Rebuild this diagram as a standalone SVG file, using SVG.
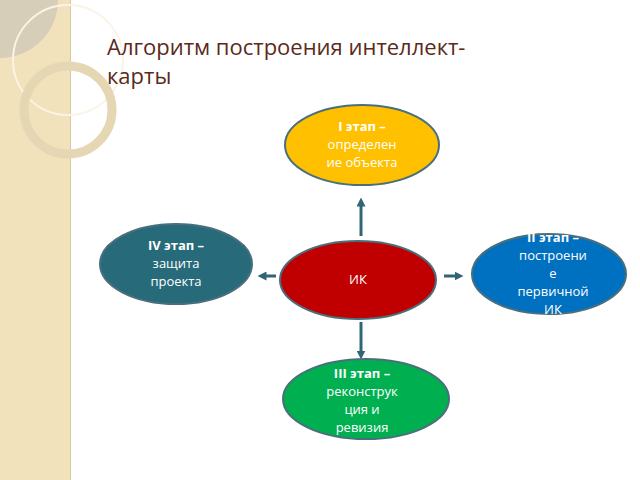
<svg xmlns="http://www.w3.org/2000/svg" width="640" height="480" viewBox="0 0 640 480">
<defs>
<style>
.n{stroke:#4a6f7c;stroke-width:2}
.t{font-family:"Open Sans","DejaVu Sans",sans-serif;font-size:13px;fill:#fff;text-anchor:middle}
.c{stroke:#2f6675;stroke-width:3;fill:none;marker-end:url(#a)}
</style>
<marker id="a" viewBox="0 0 10 10" refX="5" refY="5" markerWidth="3" markerHeight="3" orient="auto"><path d="M0,0L10,5L0,10z" fill="#2f6675"/></marker>
<clipPath id="cb"><ellipse cx="549" cy="274" rx="77" ry="40"/></clipPath>
</defs>
<rect width="640" height="480" fill="#fff"/>
<g id="decor">
<rect x="0" y="0" width="70" height="480" fill="#f2e2bc"/>
<line x1="70.5" y1="0" x2="70.5" y2="480" stroke="#d8c9a4"/>
<path d="M0,0H58A58,58 0 0 1 0,58Z" fill="#d6ceb8"/>
<circle cx="68" cy="60" r="55" fill="none" stroke="#fbf4e6" stroke-width="2"/>
<circle cx="68" cy="110" r="44" fill="none" stroke="#e6d7b4" stroke-width="9"/>
</g>
<text x="107" y="55" font-family="'Open Sans','DejaVu Sans',sans-serif" font-size="22" fill="#5a2a1a">Алгоритм построения интеллект-</text>
<text x="107" y="84" font-family="'Open Sans','DejaVu Sans',sans-serif" font-size="22" fill="#5a2a1a">карты</text>
<g id="connectors">
<line class="c" x1="361" y1="236" x2="361" y2="202"/>
<line class="c" x1="361" y1="322" x2="361" y2="355"/>
<line class="c" x1="276" y1="276" x2="262" y2="276"/>
<line class="c" x1="444" y1="276" x2="459" y2="276"/>
</g>
<g id="n1"><ellipse class="n" cx="362" cy="145" rx="77" ry="40" fill="#ffc000"/>
<text class="t" x="362" y="131"><tspan font-weight="bold">I этап –</tspan><tspan x="362" dy="18">определен</tspan><tspan x="362" dy="18">ие объекта</tspan></text></g>
<g id="n4"><ellipse class="n" cx="176" cy="264" rx="76" ry="40" fill="#276a7a"/>
<text class="t" x="176" y="250"><tspan font-weight="bold">IV этап –</tspan><tspan x="176" dy="18">защита</tspan><tspan x="176" dy="18">проекта</tspan></text></g>
<g id="n0"><ellipse class="n" cx="358" cy="280" rx="78" ry="39" fill="#c00000"/>
<text class="t" x="358" y="284">ИК</text></g>
<g id="n2"><ellipse class="n" cx="549" cy="274" rx="77" ry="40" fill="#0070c0"/>
<text class="t" x="553" y="242"><tspan font-weight="bold">II этап –</tspan><tspan x="553" dy="18">построени</tspan><tspan x="553" dy="18">е</tspan><tspan x="553" dy="18">первичной</tspan><tspan x="553" dy="18">ИК</tspan></text></g>
<g id="n3"><ellipse class="n" cx="366" cy="399" rx="83" ry="40" fill="#00b050"/>
<text class="t" x="362" y="378"><tspan font-weight="bold">III этап –</tspan><tspan x="362" dy="18">реконструк</tspan><tspan x="362" dy="18">ция и</tspan><tspan x="362" dy="18">ревизия</tspan></text></g>
</svg>
